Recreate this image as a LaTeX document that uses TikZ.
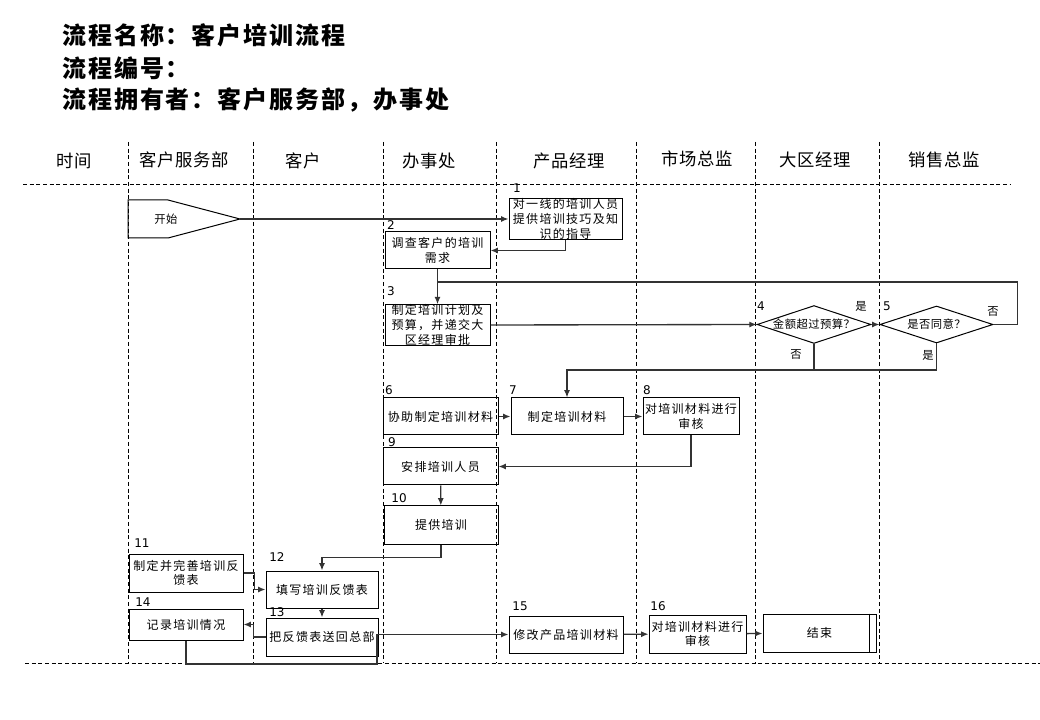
\documentclass[tikz,border=0pt]{standalone}
\usepackage{fontspec}
\setmainfont{Noto Sans CJK SC}
\newfontfamily\numfont{DejaVu Sans}
\usetikzlibrary{arrows.meta,calc,shapes.geometric}

\begin{document}
\begin{tikzpicture}[x=0.75pt,y=-0.75pt,
  lane/.style={draw=black,line width=0.7pt,dash pattern=on 3pt off 2pt},
  line/.style={draw=black!80,line width=1pt},
  arr/.style={line,-{Latex[length=5.5pt,width=4.5pt]}},
  box/.style={draw=black,line width=0.75pt,align=center,inner sep=0pt,
    minimum width=113*0.75pt,minimum height=37*0.75pt,
    font=\fontsize{9}{11}\selectfont\addfontfeature{LetterSpace=11}},
  sz/.style 2 args={minimum width=#1*0.75pt,minimum height=#2*0.75pt},
  decision/.style={draw=black,line width=0.75pt,diamond,aspect=3,inner sep=0pt,
    minimum width=113*0.75pt,minimum height=37*0.75pt,
    font=\fontsize{8.5}{9}\selectfont\addfontfeature{LetterSpace=4}},
  small/.style={inner sep=0pt,font=\fontsize{8.5}{9}\selectfont\addfontfeature{LetterSpace=4}},
  num/.style={inner sep=0pt,font=\numfont\fontsize{9}{10}\selectfont},
  head/.style={inner sep=0pt,font=\fontsize{13}{15}\selectfont\addfontfeature{LetterSpace=4}},
  title/.style={anchor=west,inner sep=0pt,
    font=\bfseries\fontsize{18}{20}\selectfont\addfontfeature{LetterSpace=8}}]
  \useasboundingbox (0,0) rectangle (1040,720);

  % title
  \node[title] (tName)  at (62,35)  {流程名称：客户培训流程};
  \node[title] (tNo)    at (62,68)  {流程编号：};
  \node[title] (tOwner) at (62,100) {流程拥有者：客户服务部，办事处};

  % lanes
  \foreach \x in {128,253,383,496,636,755,879}
    \draw[lane] (\x,142) -- (\x,663);
  \draw[lane] (23,184) -- (1010,184);
  \draw[lane] (25,663) -- (1040,663);

  \node[head] (hTime)    at (74,161)  {时间};
  \node[head] (hService) at (184,160) {客户服务部};
  \node[head] (hClient)  at (303,161) {客户};
  \node[head] (hOffice)  at (429,161) {办事处};
  \node[head] (hProduct) at (569,161) {产品经理};
  \node[head] (hMarket)  at (697,159) {市场总监};
  \node[head] (hRegion)  at (815,160) {大区经理};
  \node[head] (hSales)   at (944,160) {销售总监};

  % steps
  \draw[line width=0.75pt] (128,200) -- (168,200) -- (240,219) -- (168,238) -- (128,238) -- cycle;
  \node[small] (start) at (166,219) {开始};
  \coordinate (startTip) at (240,219);

  \node[box] (b1) at (565.5,219) {对一线的培训人员\\提供培训技巧及知\\识的指导};
  \node[box,sz={105}{37}] (b2) at (437.5,250.5) {调查客户的培训\\需求};
  \node[box,sz={105}{38}] (b3) at (437.5,325) {制定培训计划及\\预算，并递交大\\区经理审批};
  \node[decision] (d4) at (814,324.5) {金额超过预算？};
  \node[decision] (d5) at (936.5,324.5) {是否同意？};
  \node[box,sz={115}{37}] (b6) at (440.5,416.5) {协助制定培训材料};
  \node[box,sz={112}{37}] (b7) at (567,416.5) {制定培训材料};
  \node[box,sz={96}{37}] (b8) at (691,416.5) {对培训材料进行\\审核};
  \node[box,sz={115}{37}] (b9) at (440.5,466.5) {安排培训人员};
  \node[box,sz={114}{38}] (b10) at (441,525) {提供培训};
  \node[box,sz={114}{38}] (b11) at (186,573) {制定并完善培训反\\馈表};
  \node[box,sz={112}{37}] (b12) at (322,589.5) {填写培训反馈表};
  \node[box,sz={112}{38}] (b13) at (322,637) {把反馈表送回总部};
  \node[box,sz={114}{31}] (b14) at (186,624.5) {记录培训情况};
  \node[box,sz={114}{37}] (b15) at (566,634.5) {修改产品培训材料};
  \node[box,sz={97}{38}] (b16) at (697.5,634) {对培训材料进行\\审核};
  \node[box,sz={113}{38}] (bEnd) at (819.5,633) {结束};
  \draw[line width=0.75pt] ($(bEnd.north east)+(-7,0)$) -- ($(bEnd.south east)+(-7,0)$);

  % step numbers
  \node[num] (n1)  at (517,188) {1};
  \node[num] (n2)  at (391,225) {2};
  \node[num] (n3)  at (391,291) {3};
  \node[num] (n4)  at (761,306) {4};
  \node[num] (n5)  at (887,306) {5};
  \node[num] (n6)  at (389,390) {6};
  \node[num] (n7)  at (513,390) {7};
  \node[num] (n8)  at (647,390) {8};
  \node[num] (n9)  at (392,442) {9};
  \node[num] (n10) at (399,498) {10};
  \node[num] (n11) at (142,543) {11};
  \node[num] (n12) at (277,557) {12};
  \node[num] (n13) at (277,612) {13};
  \node[num] (n14) at (143,602) {14};
  \node[num] (n15) at (520,606) {15};
  \node[num] (n16) at (658,606) {16};

  \node[small] (yes4) at (861,306) {是};
  \node[small] (no4)  at (796,355) {否};
  \node[small] (no5)  at (993,312) {否};
  \node[small] (yes5) at (928,355) {是};

  % flow
  \draw[arr] (startTip) -- (b1.west);
  \draw[arr] (b1.south) |- (b2.east);
  \draw[arr] (b2) -- (b3);
  \coordinate (join3) at (b2.south |- 0,282);
  \draw[line] (d5.east) -- ++(24,0) |- (join3);
  \draw[arr] (b3.east) -- (d4.west);
  \draw[arr] (d4.east) -- (d5.west);
  \coordinate (merge) at (b7.north |- 0,370);
  \draw[arr] (d5.south) |- (merge) -- (b7.north);
  \draw[line] (d4.south) -- (d4.south |- merge);
  \draw[arr] (b6) -- (b7);
  \draw[arr] (b7) -- (b8);
  \draw[arr] (b8.south) |- (b9.east);
  \draw[arr] (b9) -- (b10);
  \draw[arr] (b10.south) -- ++(0,13) -| (b12.north);
  \draw[arr] (b11.east) -- ++(11,0) |- (b12.west);
  \draw[arr] (b12) -- (b13);
  \draw[arr] (b13.west) -- ++(-12,0) |- (b14.east);
  \coordinate (bypass) at (377,664);
  \draw[arr] (b14.south) |- (bypass) |- (b15.west);
  \draw[arr] (b15) -- (b16);
  \draw[arr] (b16) -- (bEnd);
\end{tikzpicture}
\end{document}
